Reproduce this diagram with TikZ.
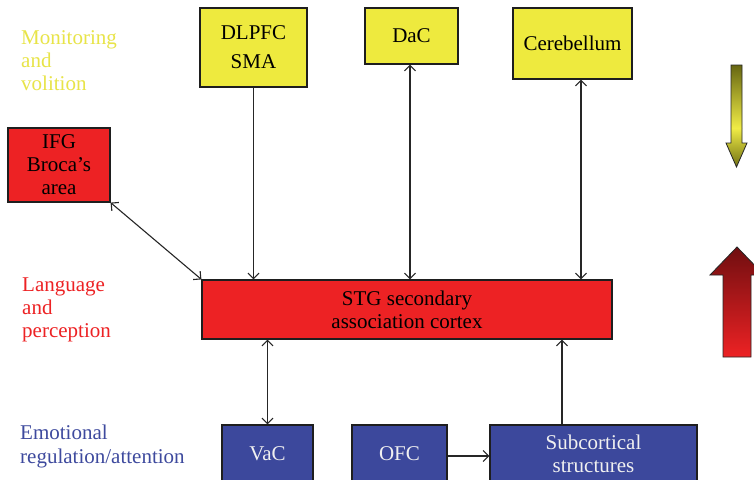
\documentclass[tikz,border=0pt]{standalone}
\usepackage{fontspec}
\setmainfont{Liberation Serif}
\usetikzlibrary{arrows.meta}
\definecolor{yfill}{RGB}{238,234,62}
\definecolor{rfill}{RGB}{237,34,36}
\definecolor{bfill}{RGB}{60,72,156}
\definecolor{lyellow}{RGB}{232,228,72}
\definecolor{lred}{RGB}{237,34,36}
\definecolor{lblue}{RGB}{62,74,158}
\definecolor{boxline}{RGB}{30,30,30}
\definecolor{olivedark}{RGB}{100,100,16}
\definecolor{olivetip}{RGB}{110,110,18}
\definecolor{ybright}{RGB}{240,236,70}
\definecolor{reddark}{RGB}{112,14,16}
\newcommand\mytextfont{\fontsize{21}{23}\selectfont}
\tikzset{
  box/.style={draw=boxline, line width=1.2pt, inner sep=0pt, align=center, font=\mytextfont},
  ybox/.style={box, fill=yfill, text=black},
  rbox/.style={box, fill=rfill, text=black},
  bbox/.style={box, fill=bfill, text=white!94!black},
  lbl/.style={inner sep=0pt, align=left, font=\mytextfont, anchor=north west},
  conn/.style={line width=1.1pt, draw=black!85, arrows={-Straight Barb[length=5.5pt,width=11pt]}},
  dconn/.style={line width=1.1pt, draw=black!85, arrows={Straight Barb[length=5.5pt,width=11pt]-Straight Barb[length=5.5pt,width=11pt]}},
}
\begin{document}
\begin{tikzpicture}[x=1pt,y=-1pt]
\useasboundingbox (0,0) rectangle (754,479);
\fill[white] (0,0) rectangle (754,479);
\clip (0,0) rectangle (754,479);

% level labels
\node[lbl, text=lyellow] (monlbl) at (21,30.5) {Monitoring\\and\\volition};
\node[lbl, text=lred] (langlbl) at (22,277.5) {Language\\and\\perception};
\node[lbl, text=lblue] (emolbl) at (20,425) {Emotional\\[1pt]regulation/attention};

% boxes
\node[ybox, minimum width=107pt, minimum height=79pt] (dlpfc) at (253.5,47.5) {DLPFC\\[6pt]SMA};
\node[ybox, minimum width=93pt, minimum height=56pt] (dac) at (411.5,36) {DaC};
\node[ybox, minimum width=119pt, minimum height=71pt] (cereb) at (572.5,43.5) {Cerebellum};
\node[rbox, minimum width=102pt, minimum height=74pt] (ifg) at (59,165) {IFG\\Broca’s\\area};
\node[rbox, minimum width=410pt, minimum height=59pt] (stg) at (407,309.5) {STG secondary\\association cortex};
\node[bbox, minimum width=91pt, minimum height=58pt] (vac) at (267.5,454) {VaC};
\node[bbox, minimum width=95pt, minimum height=58pt] (ofc) at (399.5,454) {OFC};
\node[bbox, minimum width=207pt, minimum height=58pt] (sub) at (593.5,454) {Subcortical\\structures};

% connectors
\draw[dconn] (ifg.south east) -- (stg.north west);
\draw[conn] (dlpfc.south) -- (dlpfc.south |- stg.north);
\draw[dconn] ([xshift=-1.5pt]dac.south) -- ([xshift=-1.5pt]dac.south |- stg.north);
\draw[dconn] ([xshift=8.5pt]cereb.south) -- ([xshift=8.5pt]cereb.south |- stg.north);
\draw[dconn] (vac.north) -- (vac.north |- stg.south);
\draw[conn] ([xshift=-31.5pt]sub.north) -- ([xshift=-31.5pt]sub.north |- stg.south);
\draw[conn] ([yshift=-2pt]ofc.east) -- ([yshift=-2pt]sub.west);

% direction arrows on the right
\begin{scope}
  \clip (731,65) -- (742,65) -- (742,143) -- (747,143) -- (736.5,167) -- (726,143) -- (731,143) -- cycle;
  \shade[top color=olivedark, bottom color=ybright] (724,64) rectangle (749,128);
  \shade[top color=ybright, bottom color=olivetip] (724,128) rectangle (749,168);
\end{scope}
\draw[draw=black!85, line width=0.8pt]
  (731,65) -- (742,65) -- (742,143) -- (747,143) -- (736.5,167) -- (726,143) -- (731,143) -- cycle;
\shade[draw=black!85, line width=0.8pt, top color=reddark, bottom color=rfill]
  (737,247) -- (764,275) -- (751,275) -- (751,357) -- (723,357) -- (723,275) -- (710,275) -- cycle;
\end{tikzpicture}
\end{document}
